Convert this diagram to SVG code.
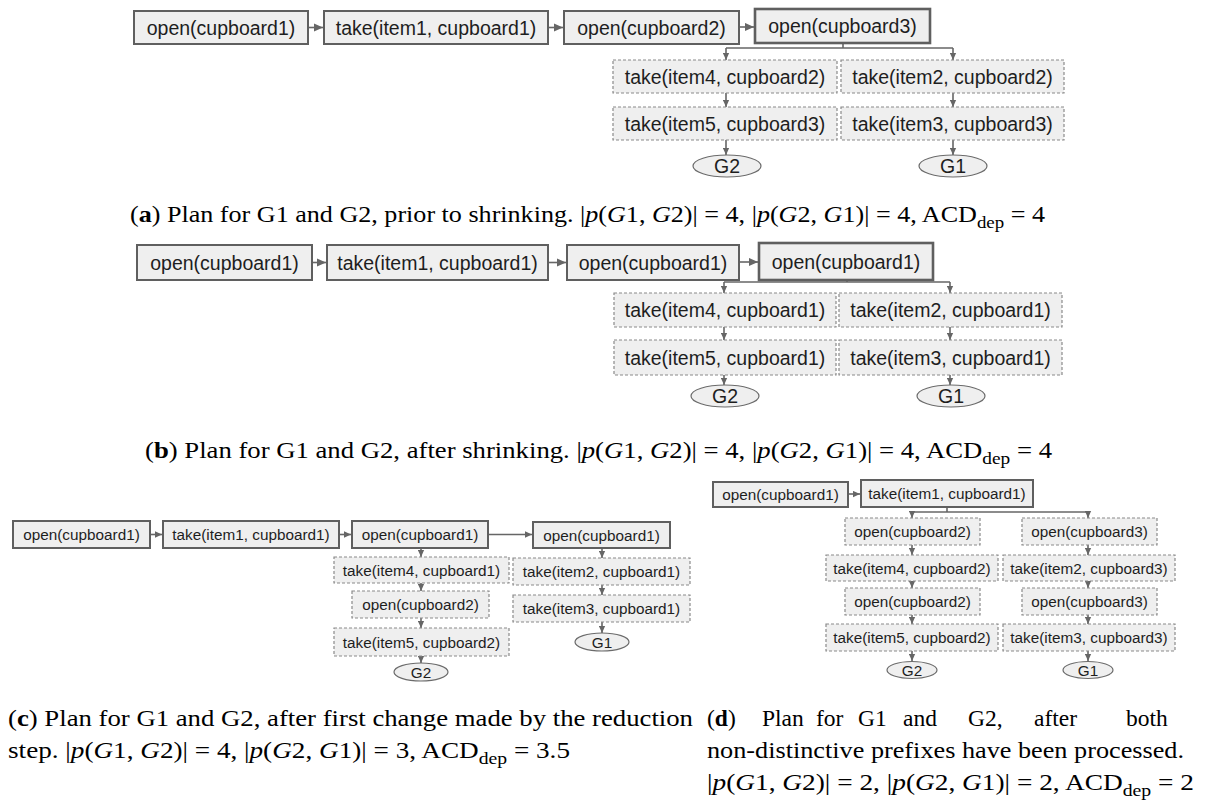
<svg xmlns="http://www.w3.org/2000/svg" width="1206" height="805" viewBox="0 0 1206 805">
<defs>
<style>
.box{fill:#efefef;stroke:#5f5f5f;stroke-width:2}
.box2{fill:#efefef;stroke:#5f5f5f;stroke-width:2.6}
.dbox{fill:#efefef;stroke:#8a8a8a;stroke-width:1.2;stroke-dasharray:3 2}
.ell{fill:#efefef;stroke:#6b6b6b;stroke-width:1.2}
.t{font-family:"Liberation Sans",Arial,sans-serif;font-size:19.5px;fill:#1e1e1e;text-anchor:middle;dominant-baseline:central}
.ts{font-size:15.3px}
.cap{font-family:"Liberation Serif","Times New Roman",serif;font-size:23.5px;fill:#000}
.e{stroke:#666;stroke-width:1.6;fill:none}
.a{marker-end:url(#ah)}
.as{marker-end:url(#ahs)}
.i{font-style:italic}
.b{font-weight:bold}
</style>
<marker id="ah" viewBox="0 0 10 10" refX="10" refY="5" markerWidth="10" markerHeight="9" markerUnits="userSpaceOnUse" orient="auto"><path d="M0,0.5 L10,5 L0,9.5 z" fill="#666"/></marker>
<marker id="ahs" viewBox="0 0 10 10" refX="10" refY="5" markerWidth="8" markerHeight="7" markerUnits="userSpaceOnUse" orient="auto"><path d="M0,0.5 L10,5 L0,9.5 z" fill="#666"/></marker>
</defs>
<rect width="1206" height="805" fill="#fff"/>

<!-- Panel (a) -->
<g id="connectors-a">
<line class="e a" x1="308" y1="27.5" x2="323" y2="27.5"/>
<line class="e a" x1="548" y1="27.5" x2="563" y2="27.5"/>
<line class="e a" x1="739" y1="27" x2="754" y2="27"/>
<polyline class="e" points="843,43 843,48"/>
<line class="e" x1="726" y1="48" x2="953" y2="48"/>
<line class="e as" x1="726" y1="48" x2="726" y2="60"/>
<line class="e as" x1="953" y1="48" x2="953" y2="60"/>
<line class="e as" x1="726" y1="93" x2="726" y2="107"/>
<line class="e as" x1="953" y1="93" x2="953" y2="107"/>
<line class="e as" x1="726" y1="140" x2="726" y2="155"/>
<line class="e as" x1="953" y1="140" x2="953" y2="155"/>
</g>
<g id="a-n1"><rect class="box" x="134" y="11" width="174" height="33"/><text class="t" x="221" y="27.5">open(cupboard1)</text></g>
<g id="a-n2"><rect class="box" x="324" y="11" width="224" height="33"/><text class="t" x="436" y="27.5">take(item1, cupboard1)</text></g>
<g id="a-n3"><rect class="box" x="564" y="11" width="175" height="33"/><text class="t" x="651.5" y="27.5">open(cupboard2)</text></g>
<g id="a-n4"><rect class="box2" x="755" y="9" width="175" height="34"/><text class="t" x="842.5" y="26">open(cupboard3)</text></g>
<g id="a-n5"><rect class="dbox" x="613" y="60" width="224" height="33"/><text class="t" x="725" y="76.5">take(item4, cupboard2)</text></g>
<g id="a-n6"><rect class="dbox" x="841" y="60" width="223" height="33"/><text class="t" x="952.5" y="76.5">take(item2, cupboard2)</text></g>
<g id="a-n7"><rect class="dbox" x="613" y="107" width="224" height="33"/><text class="t" x="725" y="123.5">take(item5, cupboard3)</text></g>
<g id="a-n8"><rect class="dbox" x="841" y="107" width="223" height="33"/><text class="t" x="952.5" y="123.5">take(item3, cupboard3)</text></g>
<g id="a-g2"><ellipse class="ell" cx="727" cy="166" rx="34" ry="11"/><text class="t" x="727" y="166">G2</text></g>
<g id="a-g1"><ellipse class="ell" cx="953" cy="166" rx="34" ry="11"/><text class="t" x="953" y="166">G1</text></g>

<text class="cap" x="130" y="222" textLength="915" lengthAdjust="spacingAndGlyphs">(<tspan class="b">a</tspan>) Plan for G1 and G2, prior to shrinking. |<tspan class="i">p</tspan>(<tspan class="i">G</tspan>1, <tspan class="i">G</tspan>2)| = 4, |<tspan class="i">p</tspan>(<tspan class="i">G</tspan>2, <tspan class="i">G</tspan>1)| = 4, ACD<tspan dy="6" font-size="17">dep</tspan><tspan dy="-6"> = 4</tspan></text>

<!-- Panel (b) -->
<g id="connectors-b">
<line class="e a" x1="312" y1="262.5" x2="326" y2="262.5"/>
<line class="e a" x1="548" y1="262.5" x2="566" y2="262.5"/>
<line class="e a" x1="739" y1="262" x2="758" y2="262"/>
<polyline class="e" points="847,280 847,282"/>
<line class="e" x1="724" y1="282" x2="950" y2="282"/>
<line class="e as" x1="724" y1="282" x2="724" y2="293"/>
<line class="e as" x1="950" y1="282" x2="950" y2="293"/>
<line class="e as" x1="724" y1="327" x2="724" y2="340"/>
<line class="e as" x1="950" y1="327" x2="950" y2="340"/>
<line class="e as" x1="724" y1="375" x2="724" y2="385"/>
<line class="e as" x1="950" y1="375" x2="950" y2="385"/>
</g>
<g id="b-n1"><rect class="box" x="137" y="245" width="175" height="35"/><text class="t" x="224.5" y="262.5">open(cupboard1)</text></g>
<g id="b-n2"><rect class="box" x="327" y="245" width="221" height="35"/><text class="t" x="437.5" y="262.5">take(item1, cupboard1)</text></g>
<g id="b-n3"><rect class="box" x="567" y="245" width="172" height="35"/><text class="t" x="653" y="262.5">open(cupboard1)</text></g>
<g id="b-n4"><rect class="box2" x="759" y="243" width="174" height="37"/><text class="t" x="846" y="261.5">open(cupboard1)</text></g>
<g id="b-n5"><rect class="dbox" x="614" y="293" width="222" height="34"/><text class="t" x="725" y="310">take(item4, cupboard1)</text></g>
<g id="b-n6"><rect class="dbox" x="839" y="293" width="223" height="34"/><text class="t" x="950.5" y="310">take(item2, cupboard1)</text></g>
<g id="b-n7"><rect class="dbox" x="614" y="340" width="222" height="35"/><text class="t" x="725" y="357.5">take(item5, cupboard1)</text></g>
<g id="b-n8"><rect class="dbox" x="839" y="340" width="223" height="35"/><text class="t" x="950.5" y="357.5">take(item3, cupboard1)</text></g>
<g id="b-g2"><ellipse class="ell" cx="725" cy="396" rx="34" ry="11"/><text class="t" x="725" y="396">G2</text></g>
<g id="b-g1"><ellipse class="ell" cx="951" cy="396" rx="34" ry="11"/><text class="t" x="951" y="396">G1</text></g>

<text class="cap" x="145" y="458" textLength="907" lengthAdjust="spacingAndGlyphs">(<tspan class="b">b</tspan>) Plan for G1 and G2, after shrinking. |<tspan class="i">p</tspan>(<tspan class="i">G</tspan>1, <tspan class="i">G</tspan>2)| = 4, |<tspan class="i">p</tspan>(<tspan class="i">G</tspan>2, <tspan class="i">G</tspan>1)| = 4, ACD<tspan dy="6" font-size="17">dep</tspan><tspan dy="-6"> = 4</tspan></text>

<!-- Panel (c) -->
<g id="connectors-c">
<line class="e as" x1="150" y1="534.5" x2="162" y2="534.5"/>
<line class="e as" x1="339" y1="534.5" x2="351" y2="534.5"/>
<line class="e as" x1="488" y1="534.5" x2="532" y2="534.5"/>
<line class="e as" x1="421" y1="548" x2="421" y2="557"/>
<line class="e as" x1="421" y1="583" x2="421" y2="591"/>
<line class="e as" x1="421" y1="618" x2="421" y2="628"/>
<line class="e as" x1="421" y1="656" x2="421" y2="663"/>
<line class="e as" x1="602" y1="548" x2="602" y2="558"/>
<line class="e as" x1="602" y1="585" x2="602" y2="595"/>
<line class="e as" x1="602" y1="622" x2="602" y2="633"/>
</g>
<g id="c-n1"><rect class="box" x="13" y="521" width="137" height="27"/><text class="t ts" x="81.5" y="534.5">open(cupboard1)</text></g>
<g id="c-n2"><rect class="box" x="163" y="521" width="176" height="27"/><text class="t ts" x="251" y="534.5">take(item1, cupboard1)</text></g>
<g id="c-n3"><rect class="box" x="352" y="521" width="136" height="27"/><text class="t ts" x="420" y="534.5">open(cupboard1)</text></g>
<g id="c-n4"><rect class="box" x="533" y="522" width="137" height="26"/><text class="t ts" x="601.5" y="535">open(cupboard1)</text></g>
<g id="c-n5"><rect class="dbox" x="334" y="557" width="175" height="26"/><text class="t ts" x="421.5" y="570">take(item4, cupboard1)</text></g>
<g id="c-n6"><rect class="dbox" x="352" y="591" width="137" height="27"/><text class="t ts" x="420.5" y="604.5">open(cupboard2)</text></g>
<g id="c-n7"><rect class="dbox" x="334" y="628" width="175" height="28"/><text class="t ts" x="421.5" y="642">take(item5, cupboard2)</text></g>
<g id="c-n8"><rect class="dbox" x="513" y="558" width="177" height="27"/><text class="t ts" x="601.5" y="571.5">take(item2, cupboard1)</text></g>
<g id="c-n9"><rect class="dbox" x="513" y="595" width="177" height="27"/><text class="t ts" x="601.5" y="608.5">take(item3, cupboard1)</text></g>
<g id="c-g2"><ellipse class="ell" cx="421" cy="672" rx="27" ry="9"/><text class="t ts" x="421" y="672">G2</text></g>
<g id="c-g1"><ellipse class="ell" cx="602" cy="642" rx="27" ry="9"/><text class="t ts" x="602" y="642">G1</text></g>

<text class="cap" x="8" y="726" textLength="685" lengthAdjust="spacingAndGlyphs">(<tspan class="b">c</tspan>) Plan for G1 and G2, after first change made by the reduction</text>
<text class="cap" x="8" y="758" textLength="562" lengthAdjust="spacingAndGlyphs">step. |<tspan class="i">p</tspan>(<tspan class="i">G</tspan>1, <tspan class="i">G</tspan>2)| = 4, |<tspan class="i">p</tspan>(<tspan class="i">G</tspan>2, <tspan class="i">G</tspan>1)| = 3, ACD<tspan dy="6" font-size="17">dep</tspan><tspan dy="-6"> = 3.5</tspan></text>

<!-- Panel (d) -->
<g id="connectors-d">
<line class="e as" x1="848" y1="494" x2="860" y2="494"/>
<polyline class="e" points="947,507 947,512"/>
<line class="e" x1="912" y1="512" x2="1088" y2="512"/>
<line class="e as" x1="912" y1="512" x2="912" y2="518"/>
<line class="e as" x1="1088" y1="512" x2="1088" y2="518"/>
<line class="e as" x1="912" y1="545" x2="912" y2="555"/>
<line class="e as" x1="912" y1="581" x2="912" y2="588"/>
<line class="e as" x1="912" y1="615" x2="912" y2="624"/>
<line class="e as" x1="912" y1="651" x2="912" y2="661"/>
<line class="e as" x1="1088" y1="545" x2="1088" y2="555"/>
<line class="e as" x1="1088" y1="581" x2="1088" y2="588"/>
<line class="e as" x1="1088" y1="615" x2="1088" y2="624"/>
<line class="e as" x1="1088" y1="651" x2="1088" y2="661"/>
</g>
<g id="d-n1"><rect class="box" x="713" y="482" width="135" height="25"/><text class="t ts" x="780.5" y="494.5">open(cupboard1)</text></g>
<g id="d-n2"><rect class="box" x="861" y="480" width="172" height="27"/><text class="t ts" x="947" y="493.5">take(item1, cupboard1)</text></g>
<g id="d-n3"><rect class="dbox" x="845" y="518" width="135" height="27"/><text class="t ts" x="912.5" y="531.5">open(cupboard2)</text></g>
<g id="d-n4"><rect class="dbox" x="826" y="555" width="172" height="26"/><text class="t ts" x="912" y="568">take(item4, cupboard2)</text></g>
<g id="d-n5"><rect class="dbox" x="845" y="588" width="135" height="27"/><text class="t ts" x="912.5" y="601.5">open(cupboard2)</text></g>
<g id="d-n6"><rect class="dbox" x="826" y="624" width="172" height="27"/><text class="t ts" x="912" y="637.5">take(item5, cupboard2)</text></g>
<g id="d-n7"><rect class="dbox" x="1022" y="518" width="135" height="27"/><text class="t ts" x="1089.5" y="531.5">open(cupboard3)</text></g>
<g id="d-n8"><rect class="dbox" x="1003" y="555" width="172" height="26"/><text class="t ts" x="1089" y="568">take(item2, cupboard3)</text></g>
<g id="d-n9"><rect class="dbox" x="1022" y="588" width="135" height="27"/><text class="t ts" x="1089.5" y="601.5">open(cupboard3)</text></g>
<g id="d-n10"><rect class="dbox" x="1003" y="624" width="172" height="27"/><text class="t ts" x="1089" y="637.5">take(item3, cupboard3)</text></g>
<g id="d-g2"><ellipse class="ell" cx="912" cy="670" rx="25" ry="8.5"/><text class="t ts" x="912" y="670">G2</text></g>
<g id="d-g1"><ellipse class="ell" cx="1088" cy="670" rx="25" ry="8.5"/><text class="t ts" x="1088" y="670">G1</text></g>

<text class="cap" y="726"><tspan x="707">(<tspan class="b">d</tspan>)</tspan><tspan x="762">Plan</tspan><tspan x="816">for</tspan><tspan x="858">G1</tspan><tspan x="903">and</tspan><tspan x="968">G2,</tspan><tspan x="1034">after</tspan><tspan x="1126">both</tspan></text>
<text class="cap" x="707" y="758" textLength="477" lengthAdjust="spacingAndGlyphs">non-distinctive prefixes have been processed.</text>
<text class="cap" x="707" y="790" textLength="487" lengthAdjust="spacingAndGlyphs">|<tspan class="i">p</tspan>(<tspan class="i">G</tspan>1, <tspan class="i">G</tspan>2)| = 2, |<tspan class="i">p</tspan>(<tspan class="i">G</tspan>2, <tspan class="i">G</tspan>1)| = 2, ACD<tspan dy="6" font-size="17">dep</tspan><tspan dy="-6"> = 2</tspan></text>
</svg>
